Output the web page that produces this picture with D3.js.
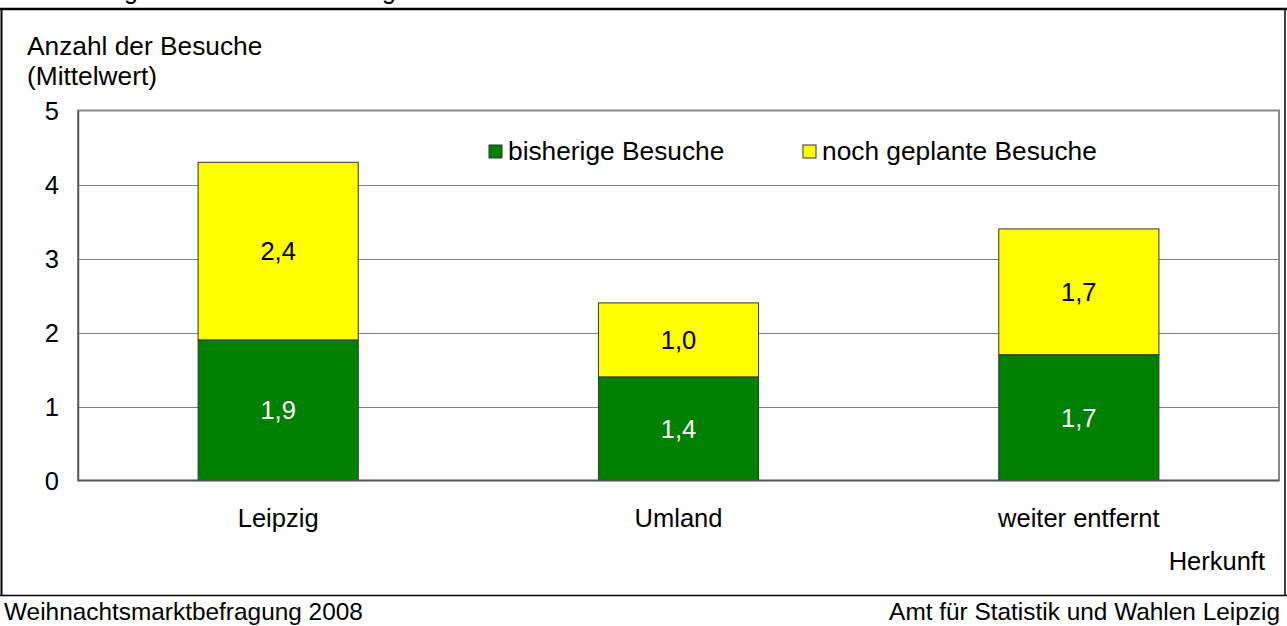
<!DOCTYPE html>
<html><head><meta charset="utf-8">
<script src="https://cdn.jsdelivr.net/npm/d3@7"></script>
<style>
html,body{margin:0;padding:0;background:#fff;}
svg{display:block;font-family:Arial,"Liberation Sans",sans-serif;}
</style></head>
<body>
<svg id="chart" width="1287" height="626"></svg>
<script>
const categories = ["Leipzig", "Umland", "weiter entfernt"];
const seriesNames = ["bisherige Besuche", "noch geplante Besuche"];
const bisherige = [1.9, 1.4, 1.7];
const geplante = [2.4, 1.0, 1.7];
const yTicks = [0, 1, 2, 3, 4, 5];
const titleFragments = ["g", "g"];

const svg = d3.select("#chart");
const W = 1287, H = 626;
const plot = {left: 78, right: 1279, top: 110.5, bottom: 480.5};

const x = d3.scaleBand().domain(categories).range([plot.left, plot.right]).paddingInner(0.6).paddingOuter(0.3);
const y = d3.scaleLinear().domain([0, 5]).range([plot.bottom, plot.top]);
const colors = ["#008000", "#FFFF00"];
const labelColors = ["#ffffff", "#000000"];

// outer frame
svg.append("line").attr("x1",0).attr("x2",W).attr("y1",9).attr("y2",9).attr("stroke","#000").attr("stroke-width",2.5);
svg.append("line").attr("x1",1.5).attr("x2",1.5).attr("y1",9).attr("y2",596).attr("stroke","#000").attr("stroke-width",2);
svg.append("line").attr("x1",1285).attr("x2",1285).attr("y1",9).attr("y2",596).attr("stroke","#000").attr("stroke-width",1.5);
svg.append("line").attr("x1",0).attr("x2",W).attr("y1",595.5).attr("y2",595.5).attr("stroke","#000").attr("stroke-width",1.5);

// clipped title fragments (descenders of cut-off title, as in the reference)
svg.selectAll("text.tf").data(titleFragments).join("text").attr("class","tf")
  .attr("x",(d,i)=>[131,389][i]).attr("y",-1).attr("text-anchor","middle")
  .attr("font-size",25).text(d=>d);

// plot area background + gridlines
svg.append("rect").attr("x",plot.left).attr("y",plot.top).attr("width",plot.right-plot.left).attr("height",plot.bottom-plot.top)
  .attr("fill","#fff").attr("stroke","#888").attr("stroke-width",2);
svg.selectAll("line.grid").data(yTicks.filter(t=>t>0 && t<5)).join("line").attr("class","grid")
  .attr("x1",plot.left).attr("x2",plot.right).attr("y1",d=>Math.round(y(d))+0.5).attr("y2",d=>Math.round(y(d))+0.5)
  .attr("stroke","#808080").attr("stroke-width",1.2);

// y axis
const yAxis = d3.axisLeft(y).tickValues(yTicks).tickSize(0).tickPadding(19).tickFormat(d3.format("d"));
const gy = svg.append("g").attr("transform",`translate(${plot.left},0)`).call(yAxis);
gy.select(".domain").attr("stroke","#555").attr("stroke-width",1.5);
gy.selectAll("text").attr("font-size",25.5).attr("fill","#000").attr("font-family","Arial,'Liberation Sans',sans-serif").attr("dy","0.36em");

// stacked bars
const data = categories.map((c,i)=>({cat:c, bisherige:bisherige[i], geplante:geplante[i]}));
const stack = d3.stack().keys(["bisherige","geplante"]);
const layers = stack(data);
layers.forEach((layer, li) => {
  svg.append("g").selectAll("rect").data(layer).join("rect")
    .attr("x", d=>x(d.data.cat)).attr("width", x.bandwidth())
    .attr("y", d=>y(d[1])).attr("height", d=>y(d[0])-y(d[1]))
    .attr("fill", colors[li]).attr("stroke","#333").attr("stroke-width",1);
  svg.append("g").selectAll("text").data(layer).join("text")
    .attr("x", d=>x(d.data.cat)+x.bandwidth()/2)
    .attr("y", d=>(y(d[0])+y(d[1]))/2 + 9)
    .attr("text-anchor","middle").attr("font-size",25.5).attr("fill",labelColors[li])
    .text(d=>d3.format(".1f")(d[1]-d[0]).replace(".",","));
});

// bottom axis line
svg.append("line").attr("x1",plot.left).attr("x2",plot.right).attr("y1",plot.bottom).attr("y2",plot.bottom)
  .attr("stroke","#555").attr("stroke-width",1.5);

// x axis labels
const xAxis = d3.axisBottom(x).tickSize(0).tickPadding(0);
const gx = svg.append("g").attr("transform",`translate(0,${plot.bottom})`).call(xAxis);
gx.select(".domain").remove();
gx.selectAll("text").attr("font-size",25.5).attr("fill","#000").attr("font-family","Arial,'Liberation Sans',sans-serif")
  .attr("dy",null).attr("y",46);

// axis titles
svg.append("text").attr("x",27).attr("y",55).attr("font-size",26.3).text("Anzahl der Besuche");
svg.append("text").attr("x",27).attr("y",85).attr("font-size",26.3).text("(Mittelwert)");
svg.append("text").attr("x",1265).attr("y",570).attr("text-anchor","end").attr("font-size",25.5).text("Herkunft");

// legend
const legendX = [489, 803];
const lg = svg.append("g").selectAll("g").data(seriesNames).join("g")
  .attr("transform",(d,i)=>`translate(${legendX[i]},145)`);
lg.append("rect").attr("width",13).attr("height",13).attr("fill",(d,i)=>colors[i]).attr("stroke","#333").attr("stroke-width",1);
lg.append("text").attr("x",19).attr("y",15).attr("font-size",26.3).text(d=>d);

// footer
svg.append("text").attr("x",4).attr("y",620).attr("font-size",24.4).text("Weihnachtsmarktbefragung 2008");
svg.append("text").attr("x",1280).attr("y",620).attr("text-anchor","end").attr("font-size",24.4).text("Amt für Statistik und Wahlen Leipzig");
</script>
</body></html>
